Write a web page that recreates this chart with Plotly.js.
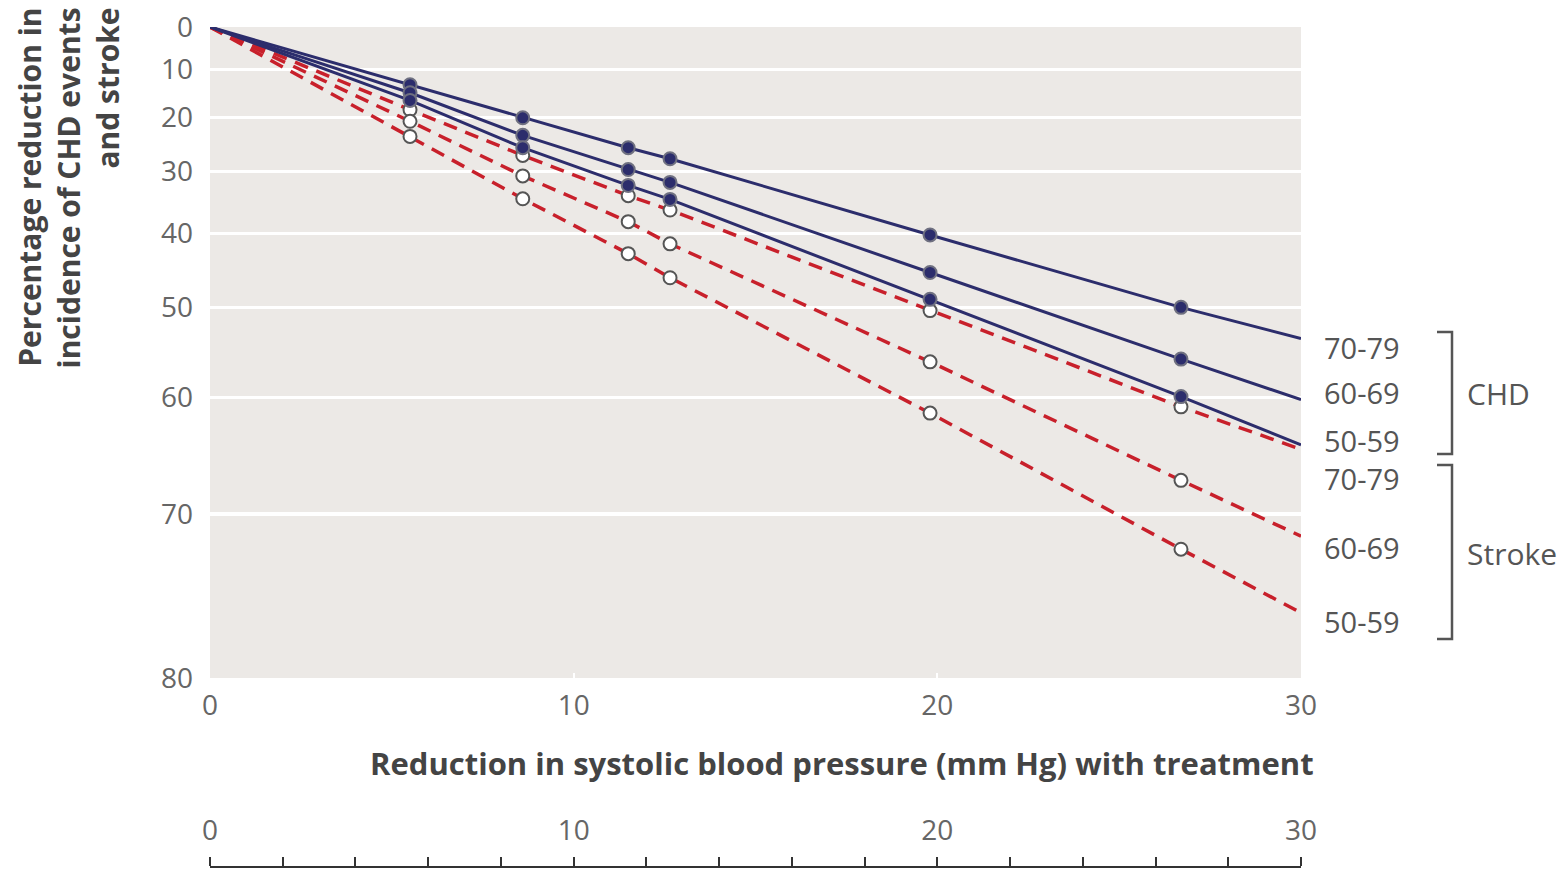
<!DOCTYPE html>
<html>
<head>
<meta charset="utf-8">
<script src="https://cdn.plot.ly/plotly-3.0.1.min.js"></script>
<style>html,body{margin:0;padding:0;background:#fff;}#chart{width:1567px;height:869px;}</style>
</head>
<body>
<div id="chart"></div>
<script>
// ---- data ----
const bpReduction = [5.5, 8.6, 11.5, 12.65, 19.8, 26.7];
const lineEnds = [0, 30];
const ageGroups = ['70-79', '60-69', '50-59'];
const outcomes = ['CHD', 'Stroke'];
// percentage reduction at each marker
const chd7079 = [13.3, 20.1, 25.8, 27.8, 40.2, 50.0];
const chd6069 = [15.0, 23.5, 29.7, 31.9, 45.5, 56.0];
const chd5059 = [16.6, 25.8, 32.4, 34.7, 49.0, 59.9];
const stroke7079 = [18.5, 27.2, 34.1, 36.4, 50.4, 60.9];
const stroke6069 = [20.8, 30.8, 38.2, 41.5, 56.3, 67.4];
const stroke5059 = [23.7, 34.6, 42.9, 46.2, 61.5, 72.5];
// percentage reduction at the end of each line (x = 30)
const chdEnd = [53.7, 60.2, 64.4];
const strokeEnd = [64.8, 71.6, 76.5];
const yTickPct = [0, 10, 20, 30, 40, 50, 60, 70, 80];
const xTicks = [0, 10, 20, 30];
const xMinorStep = 2;

// ---- helpers ----
// y axis is log of remaining incidence (100 - reduction)
const rem = p => 100 - p;
const L = 210, R = 266, T = 27, B = 2, W = 1567, H = 869;
const PW = W - L - R, PH = H - T - B;
const xp = px => (px - L) / PW;
const yp = py => (H - B - py) / PH;
const plotBottomPx = 678;

const NAVY = '#2c2d6c', RED = '#c8202b';
const FONT = 'Open Sans, Noto Sans, sans-serif';

function lineTrace(vals, endVal, color, dash, width) {
  const xs = [lineEnds[0], ...bpReduction, lineEnds[1]];
  const ys = [0, ...vals, endVal].map(rem);
  return {x: xs, y: ys, mode: 'lines', type: 'scatter', hoverinfo: 'skip',
    line: {color: color, width: width, dash: dash}, showlegend: false};
}
function markerTrace(vals, fill, outline) {
  return {x: bpReduction, y: vals.map(rem), mode: 'markers', type: 'scatter',
    marker: {size: 13, color: fill, line: {color: outline, width: 2}}, showlegend: false};
}

const strokeSeries = [stroke7079, stroke6069, stroke5059];
const chdSeries = [chd7079, chd6069, chd5059];
const traces = [];
strokeSeries.forEach((s, i) => traces.push(lineTrace(s, strokeEnd[i], RED, '14px,9px', 3.5)));
chdSeries.forEach((s, i) => traces.push(lineTrace(s, chdEnd[i], NAVY, 'solid', 3)));
strokeSeries.forEach(s => traces.push(markerTrace(s, '#ffffff', '#555555')));
chdSeries.forEach(s => traces.push(markerTrace(s, NAVY, '#6f7080')));
// dummy trace for the second (bottom) x axis
traces.push({x: [0, 30], y: [50, 50], xaxis: 'x2', yaxis: 'y', mode: 'none', hoverinfo: 'skip', showlegend: false});

const minorVals = [];
for (let v = 0; v <= 30; v += xMinorStep) minorVals.push(v);

const ageLabelY = {CHD: [347, 392, 440], Stroke: [478, 547, 622]};
const AGE_FONT = {family: FONT, size: 29, color: '#555'};
const LABEL_FONT = {family: FONT, size: 30, color: '#555'};
const annotations = [];
ageGroups.forEach((a, i) => {
  annotations.push({text: a, xref: 'paper', yref: 'paper', x: xp(1322), y: yp(ageLabelY.CHD[i]),
    xanchor: 'left', yanchor: 'middle', showarrow: false, font: AGE_FONT});
  annotations.push({text: a, xref: 'paper', yref: 'paper', x: xp(1322), y: yp(ageLabelY.Stroke[i]),
    xanchor: 'left', yanchor: 'middle', showarrow: false, font: AGE_FONT});
});
annotations.push({text: outcomes[0], xref: 'paper', yref: 'paper', x: xp(1465), y: yp(393),
  xanchor: 'left', yanchor: 'middle', showarrow: false, font: LABEL_FONT});
annotations.push({text: outcomes[1], xref: 'paper', yref: 'paper', x: xp(1465), y: yp(553),
  xanchor: 'left', yanchor: 'middle', showarrow: false, font: LABEL_FONT});
annotations.push({text: '<b>Reduction in systolic blood pressure (mm Hg) with treatment</b>',
  xref: 'paper', yref: 'paper', x: xp(842), y: yp(763), xanchor: 'center', yanchor: 'middle',
  showarrow: false, font: {family: FONT, size: 31, color: '#444'}});
annotations.push({text: '<b>Percentage reduction in<br>incidence of CHD events<br>and stroke</b>',
  xref: 'paper', yref: 'paper', x: xp(68), y: yp(6), xanchor: 'center', yanchor: 'top',
  textangle: -90, align: 'right', showarrow: false, font: {family: FONT, size: 30, color: '#444'}});

function bracket(top, bottom) {
  const x1 = xp(1437), x2 = xp(1452);
  return {type: 'path', xref: 'paper', yref: 'paper',
    path: `M ${x1} ${yp(top)} L ${x2} ${yp(top)} L ${x2} ${yp(bottom)} L ${x1} ${yp(bottom)}`,
    line: {color: '#555', width: 2.5}};
}

const layout = {
  width: W, height: H,
  margin: {l: L, r: R, t: T, b: B, pad: 0},
  paper_bgcolor: '#ffffff',
  plot_bgcolor: '#ece9e6',
  font: {family: FONT},
  xaxis: {
    range: [0, 30], tickvals: xTicks, ticktext: xTicks.map(String),
    showgrid: false, zeroline: false, showline: false,
    ticks: 'inside', ticklen: 5, tickwidth: 2, tickcolor: '#ffffff',
    ticklabelstandoff: 8,
    tickfont: {family: FONT, size: 28, color: '#666'}, anchor: 'y'
  },
  xaxis2: {
    range: [0, 30], overlaying: 'x', anchor: 'free', position: 0, side: 'top',
    tickvals: minorVals, ticktext: minorVals.map(v => xTicks.includes(v) ? String(v) : ''),
    showgrid: false, zeroline: false, showline: true, linecolor: '#333', linewidth: 2,
    ticks: 'outside', ticklen: 9, tickwidth: 2, tickcolor: '#333',
    ticklabelstandoff: 6,
    tickfont: {family: FONT, size: 28, color: '#666'}
  },
  yaxis: {
    type: 'log', domain: [yp(plotBottomPx), 1],
    range: [Math.log10(rem(80)), Math.log10(rem(0))],
    tickvals: yTickPct.map(rem), ticktext: yTickPct.map(String),
    showgrid: true, gridcolor: '#ffffff', gridwidth: 3.5,
    zeroline: false, showline: false, ticks: '',
    ticklabelstandoff: 16,
    tickfont: {family: FONT, size: 28, color: '#666'}
  },
  annotations: annotations,
  shapes: [bracket(332, 454), bracket(465, 639)]
};

Plotly.newPlot('chart', traces, layout, {displayModeBar: false, staticPlot: true});
</script>
</body>
</html>
